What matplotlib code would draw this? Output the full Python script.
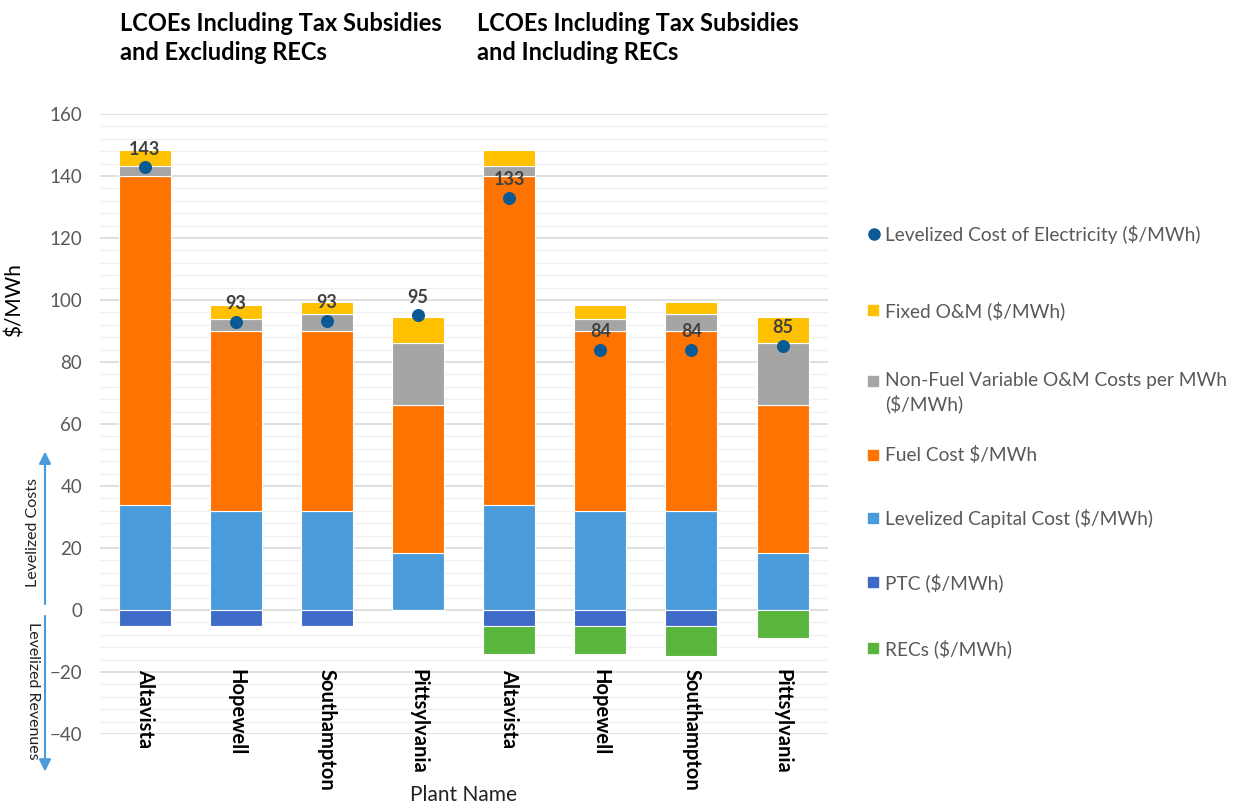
import numpy as np
import matplotlib
matplotlib.use("Agg")
import matplotlib.pyplot as plt
from matplotlib.lines import Line2D
from matplotlib.patches import Rectangle
import matplotlib.transforms as mtransforms

plt.rcParams['font.family'] = ['Lato', 'DejaVu Sans']

# plant names (two groups: excluding RECs / including RECs)
plants = ['Altavista', 'Hopewell', 'Southampton', 'Pittsylvania',
          'Altavista', 'Hopewell', 'Southampton', 'Pittsylvania']

# stacked components in $/MWh
capital = [34, 32, 32, 18.3, 34, 32, 32, 18.3]
fuel = [106, 58, 58, 47.7, 106, 58, 58, 47.7]
nonfuel = [3.3, 4, 5.5, 20, 3.3, 4, 5.5, 20]
fixed = [5, 4.4, 3.7, 8.6, 5, 4.4, 3.7, 8.6]
ptc = [-5.3, -5.3, -5.3, 0, -5.3, -5.3, -5.3, 0]
recs = [0, 0, 0, 0, -9, -9, -9.4, -9]
lcoe = [142.8, 93, 93.2, 95, 133, 84, 84, 85.2]
lcoe_labels = ['143', '93', '93', '95', '133', '84', '84', '85']

c_fixed = '#FFC000'
c_nonfuel = '#A5A5A5'
c_fuel = '#FF7300'
c_cap = '#4A9BDB'
c_ptc = '#3E6AC8'
c_recs = '#5AB53C'
c_dot = '#0B5A94'
c_text = '#595959'

W, H = 1236, 806
fig = plt.figure(figsize=(12.36, 8.06), dpi=100)
ax = fig.add_axes([0.081, 0.0893, 0.589, 0.7693])

x = np.arange(len(plants))
w = 0.57
capital = np.array(capital)
fuel = np.array(fuel)
nonfuel = np.array(nonfuel)
fixed = np.array(fixed)
ptc = np.array(ptc)
recs = np.array(recs)

ekw = dict(edgecolor='white', linewidth=0.8, zorder=3)
ax.bar(x, capital, w, color=c_cap, **ekw)
ax.bar(x, fuel, w, bottom=capital, color=c_fuel, **ekw)
ax.bar(x, nonfuel, w, bottom=capital + fuel, color=c_nonfuel, **ekw)
ax.bar(x, fixed, w, bottom=capital + fuel + nonfuel, color=c_fixed, **ekw)
ax.bar(x, ptc, w, color=c_ptc, **ekw)
ax.bar(x, recs, w, bottom=ptc, color=c_recs, **ekw)
ax.scatter(x, lcoe, s=70, color=c_dot, zorder=5)

for xi, v, lab in zip(x, lcoe, lcoe_labels):
    ax.annotate(lab, (xi, v), xytext=(0, 7), textcoords='offset points',
                ha='center', va='bottom', fontsize=13, fontweight='bold',
                color='#404040', zorder=6)

ax.set_ylim(-40, 160)
ax.set_xlim(-0.49, 7.5)
ax.set_yticks(np.arange(-40, 161, 20))
ax.set_yticks(np.arange(-40, 161, 4), minor=True)
ax.grid(axis='y', which='major', color='#D9D9D9', linewidth=1.2, zorder=0)
ax.grid(axis='y', which='minor', color='#F0F0F0', linewidth=1.0, zorder=0)
ax.set_axisbelow(True)
for s in ax.spines.values():
    s.set_visible(False)
ax.tick_params(axis='both', which='both', length=0)
ax.tick_params(axis='y', labelsize=13.5, labelcolor=c_text, pad=13)
ax.set_xticks([])

# plant names sit inside the plot area, rotated
for xi, name in zip(x, plants):
    ax.text(xi, -19, name, rotation=270, ha='center', va='top',
            fontsize=14.5, fontweight='bold', color='black')

fig.text(463 / W, 1 - 795 / H, 'Plant Name', ha='center', va='center',
         fontsize=15, color='#222222')
fig.text(15 / W, 1 - 300 / H, '$/MWh', rotation=90, ha='center',
         va='center', fontsize=15, color='black')

fig.text(120 / W, 1 - 12 / H, 'LCOEs Including Tax Subsidies\nand Excluding RECs',
         ha='left', va='top', fontsize=17, fontweight='bold', linespacing=1.3)
fig.text(477 / W, 1 - 12 / H, 'LCOEs Including Tax Subsidies\nand Including RECs',
         ha='left', va='top', fontsize=17, fontweight='bold', linespacing=1.3)

# levelized costs / revenues arrows on the left
tr = mtransforms.blended_transform_factory(fig.transFigure, ax.transData)
ax_x = 45 / W
ax.annotate('', xy=(ax_x, 52), xytext=(ax_x, 1), xycoords=tr, textcoords=tr,
            arrowprops=dict(arrowstyle='-|>', color=c_cap, lw=1.5,
                            mutation_scale=18), annotation_clip=False)
ax.annotate('', xy=(ax_x, -53), xytext=(ax_x, -1), xycoords=tr, textcoords=tr,
            arrowprops=dict(arrowstyle='-|>', color=c_cap, lw=1.5,
                            mutation_scale=18), annotation_clip=False)
ax.text(33 / W, 25, 'Levelized Costs', transform=tr, rotation=90,
        ha='center', va='center', fontsize=11.5, color='#222222')
ax.text(33 / W, -26, 'Levelized Revenues', transform=tr, rotation=270,
        ha='center', va='center', fontsize=11.5, color='#222222')

# legend, laid out by hand to match the uneven row spacing
leg_labels = ['Levelized Cost of Electricity ($/MWh)', 'Fixed O&M ($/MWh)',
              'Non-Fuel Variable O&M Costs per MWh\n($/MWh)', 'Fuel Cost $/MWh',
              'Levelized Capital Cost ($/MWh)', 'PTC ($/MWh)', 'RECs ($/MWh)']
leg_colors = [c_dot, c_fixed, c_nonfuel, c_fuel, c_cap, c_ptc, c_recs]
leg_rows = [234, 310, 381, 455, 518, 582, 648]
for i, (lab, col, yp) in enumerate(zip(leg_labels, leg_colors, leg_rows)):
    yf = 1 - yp / H
    if i == 0:
        fig.add_artist(Line2D([874 / W], [yf], marker='o', color=col,
                              markersize=8, linestyle='none'))
    else:
        fig.add_artist(Rectangle((868 / W, yf - 5 / H), 10 / W, 10 / H,
                                 color=col, transform=fig.transFigure))
    fig.text(885 / W, yf + 9 / H, lab, ha='left', va='top', fontsize=13.8,
             color=c_text, linespacing=1.35)

fig.savefig('out.png', dpi=100)
